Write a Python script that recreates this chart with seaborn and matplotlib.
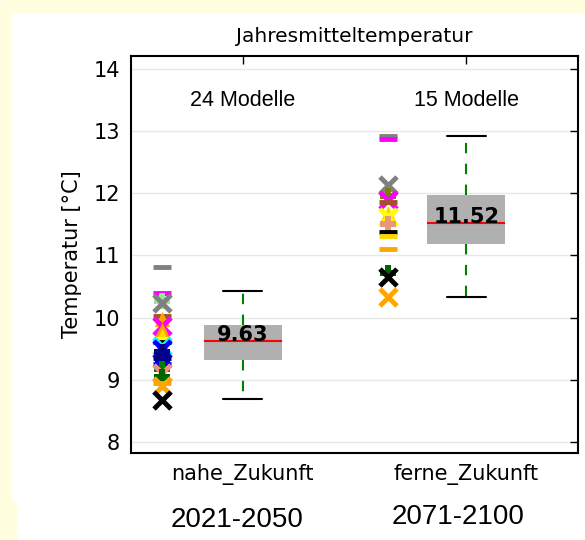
import pandas as pd
import matplotlib
matplotlib.use("Agg")
import matplotlib.pyplot as plt
from matplotlib.patches import Rectangle
import seaborn as sns

# Zeiträume
categories = ["nahe_Zukunft", "ferne_Zukunft"]
periods = ["2021-2050", "2071-2100"]
model_counts = ["24 Modelle", "15 Modelle"]

# Boxplot-Kennwerte
box_med = [9.63, 11.52]
box_q1 = [9.32, 11.19]
box_q3 = [9.88, 11.98]
whis_lo = [8.69, 10.33]
whis_hi = [10.42, 12.93]

# Einzelmodelle nahe Zukunft (24)
near_vals = [10.81, 10.40, 10.27, 10.23, 10.02, 9.98, 9.86, 9.80, 9.70, 9.65,
             9.60, 9.55, 9.50, 9.45, 9.40, 9.35, 9.30, 9.25, 9.17, 9.10,
             9.05, 8.95, 8.90, 8.68]
near_colors = ["gray", "magenta", "lightgreen", "gray", "sienna", "orange", "magenta", "orange",
               "gold", "yellow", "black", "cyan", "blue", "navy", "darkblue", "navy",
               "darkblue", "blue", "green", "darksalmon", "darkgreen", "orange", "orange", "black"]
near_markers = ["_", "_", "P", "x", "_", "^", "x", "^", "^", "_",
                "_", "x", "x", "P", "X", "_", "o", "_", "P", "x",
                "P", "_", "x", "x"]

# Einzelmodelle ferne Zukunft (15)
far_vals = [12.92, 12.88, 12.14, 11.95, 11.90, 11.86, 11.68, 11.62, 11.50, 11.38,
            11.32, 11.10, 10.72, 10.65, 10.33]
far_colors = ["gray", "magenta", "gray", "olive", "magenta", "sienna", "gold", "yellow",
              "darksalmon", "black", "gold", "orange", "darkgreen", "black", "orange"]
far_markers = ["_", "_", "x", "P", "x", "_", "^", "x", "P", "_",
               "_", "_", "P", "x", "x"]

sns.set_style("white")
plt.rcParams["font.family"] = ["DejaVu Sans"]
plt.rcParams.update({"text.color": "black", "axes.labelcolor": "black",
                     "xtick.color": "black", "ytick.color": "black"})

fig = plt.figure(figsize=(5.85, 5.4), dpi=100, facecolor="#ffffe0")
fig.add_artist(Rectangle((12 / 585, 0), 1, 1 - 13 / 540, transform=fig.transFigure,
                         facecolor="white", edgecolor="none", zorder=-10))
fig.add_artist(Rectangle((0, 0), 18 / 585, 38 / 540, transform=fig.transFigure,
                         facecolor="#ffffe0", edgecolor="none", zorder=-9))
ax = fig.add_axes([131 / 585, 87 / 540, 447 / 585, 397 / 540])

positions = [1, 2]
stats = []
for i in range(2):
    stats.append({"med": box_med[i], "q1": box_q1[i], "q3": box_q3[i],
                  "whislo": whis_lo[i], "whishi": whis_hi[i], "fliers": []})
ax.bxp(stats, positions=positions, widths=0.35, patch_artist=True, showfliers=False,
       boxprops=dict(facecolor="#b0b0b0", edgecolor="none"),
       medianprops=dict(color="red", linewidth=1.5),
       whiskerprops=dict(color="green", linewidth=1.5, linestyle=(0, (5, 5))),
       capprops=dict(color="black", linewidth=1.5))

for i in range(2):
    ax.text(positions[i], box_med[i], f"{box_med[i]:.2f}", ha="center", va="baseline",
            fontsize=15, fontweight="bold", color="black", zorder=5)
    ax.text(positions[i], 13.5, model_counts[i], ha="center", va="center",
            fontsize=15.5, family="Liberation Sans")

pts = pd.DataFrame({
    "pos": [positions[0] - 0.36] * len(near_vals) + [positions[1] - 0.35] * len(far_vals),
    "val": near_vals + far_vals,
    "color": near_colors + far_colors,
    "marker": near_markers + far_markers,
})
for _, row in pts.iterrows():
    m = row["marker"]
    if m in ("x", "_"):
        sns.scatterplot(x=[row["pos"]], y=[row["val"]], marker=m, color=row["color"],
                        s=150, linewidth=3.5, ax=ax, legend=False, zorder=3)
    else:
        sns.scatterplot(x=[row["pos"]], y=[row["val"]], marker=m, color=row["color"],
                        s=120, linewidth=0, ax=ax, legend=False, zorder=3)

ax.set_xlim(0.5, 2.5)
ax.set_ylim(7.82, 14.21)
ax.set_yticks(range(8, 15))
ax.set_xticks(positions)
ax.set_xticklabels(categories)
ax.grid(axis="y", color="#e8e8e8", linewidth=1)
ax.set_axisbelow(True)
ax.tick_params(direction="in", top=True, right=True, length=6, width=1, labelsize=15, pad=8)
for sp in ax.spines.values():
    sp.set_color("black")
    sp.set_linewidth(1.5)
ax.set_ylabel("Temperatur [°C]", fontsize=15, labelpad=8)
ax.set_xlabel("")
ax.set_title("Jahresmitteltemperatur", fontsize=14.5, pad=10)

fig.text(237 / 585, 1 - 520 / 540, periods[0], ha="center", va="center",
         fontsize=20, family="Liberation Sans")
fig.text(458 / 585, 1 - 517 / 540, periods[1], ha="center", va="center",
         fontsize=20, family="Liberation Sans")

fig.savefig("out.png", dpi=100, facecolor=fig.get_facecolor())
